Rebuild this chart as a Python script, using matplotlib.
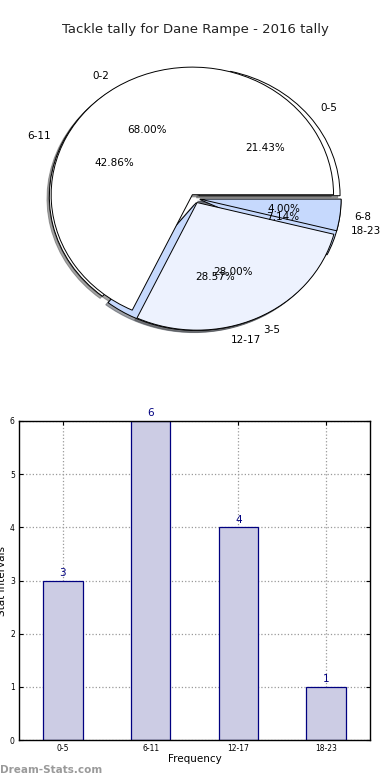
import numpy as np
import matplotlib
matplotlib.use('Agg')
import matplotlib.pyplot as plt

# Adatok
title = 'Tackle tally for Dane Rampe - 2016 tally'

# belső (alsó) kör: intervallumok
pie_a_labels = ['0-5', '6-11', '12-17', '18-23']
pie_a_values = [3, 6, 4, 1]
pie_a_colors = ['white', 'white', '#c6d9fd', '#c6d9fd']

# felső kör
pie_b_labels = ['0-2', '3-5', '6-8']
pie_b_values = [17, 7, 1]
pie_b_colors = ['white', '#edf2fe', '#c6d9fd']

bar_labels = ['0-5', '6-11', '12-17', '18-23']
bar_values = [3, 6, 4, 1]

fig = plt.figure(figsize=(3.9, 7.8), dpi=100, facecolor='white')

fig.text(0.5, 1 - 30 / 780, title, ha='center', va='center', fontsize=9.5, color='#222222')

# --- kördiagram ---
ax1 = fig.add_axes([18.5 / 390, 1 - 358 / 780, 353 / 390, 319 / 780])
for vals, labs, cols in [(pie_a_values, pie_a_labels, pie_a_colors),
                         (pie_b_values, pie_b_labels, pie_b_colors)]:
    ax1.pie(vals, labels=labs, colors=cols, explode=[0.035] * len(vals),
            autopct='%.2f%%', shadow={'ox': -0.012, 'oy': -0.012}, startangle=0,
            wedgeprops={'edgecolor': 'black', 'linewidth': 0.7},
            textprops={'fontsize': 7.5, 'color': 'black'})
ax1.set_aspect('auto')
ax1.set_xlim(-1.25, 1.25)
ax1.set_ylim(-1.25, 1.25)
ax1.axis('off')

# --- oszlopdiagram ---
ax2 = fig.add_axes([19 / 390, 1 - 740 / 780, 351 / 390, 319 / 780])
x = np.arange(len(bar_values))
bars = ax2.bar(x, bar_values, width=0.45, color='#ccccE4', edgecolor='#000080',
               linewidth=0.9, zorder=2)
for xi, v in zip(x, bar_values):
    ax2.annotate(str(v), (xi, v), xytext=(0, 2), textcoords='offset points',
                 ha='center', va='bottom', fontsize=7.5, color='#000080')

ax2.set_xlim(-0.5, 3.5)
ax2.set_ylim(0, 6)
ax2.set_xticks(x)
ax2.set_xticklabels(bar_labels)
ax2.set_yticks(range(0, 7))
ax2.tick_params(direction='in', top=True, right=True, labelsize=5.5, length=3, pad=3)
ax2.grid(True, linestyle=':', color='#999999', linewidth=0.9, zorder=0)
ax2.set_axisbelow(True)
for s in ax2.spines.values():
    s.set_linewidth(1.0)

ax2.set_xlabel('Frequency', fontsize=7.5)
ax2.set_ylabel('Stat Intervals', fontsize=7.5)
ax2.xaxis.set_label_coords(0.5, -0.045)
ax2.yaxis.set_label_coords(-0.035, 0.5)

fig.text(0, 1 - 770 / 780, 'Dream-Stats.com', ha='left', va='center', fontsize=7.5,
         fontweight='bold', color='#9a9a9a')

fig.savefig('out.png', dpi=100, facecolor='white')
